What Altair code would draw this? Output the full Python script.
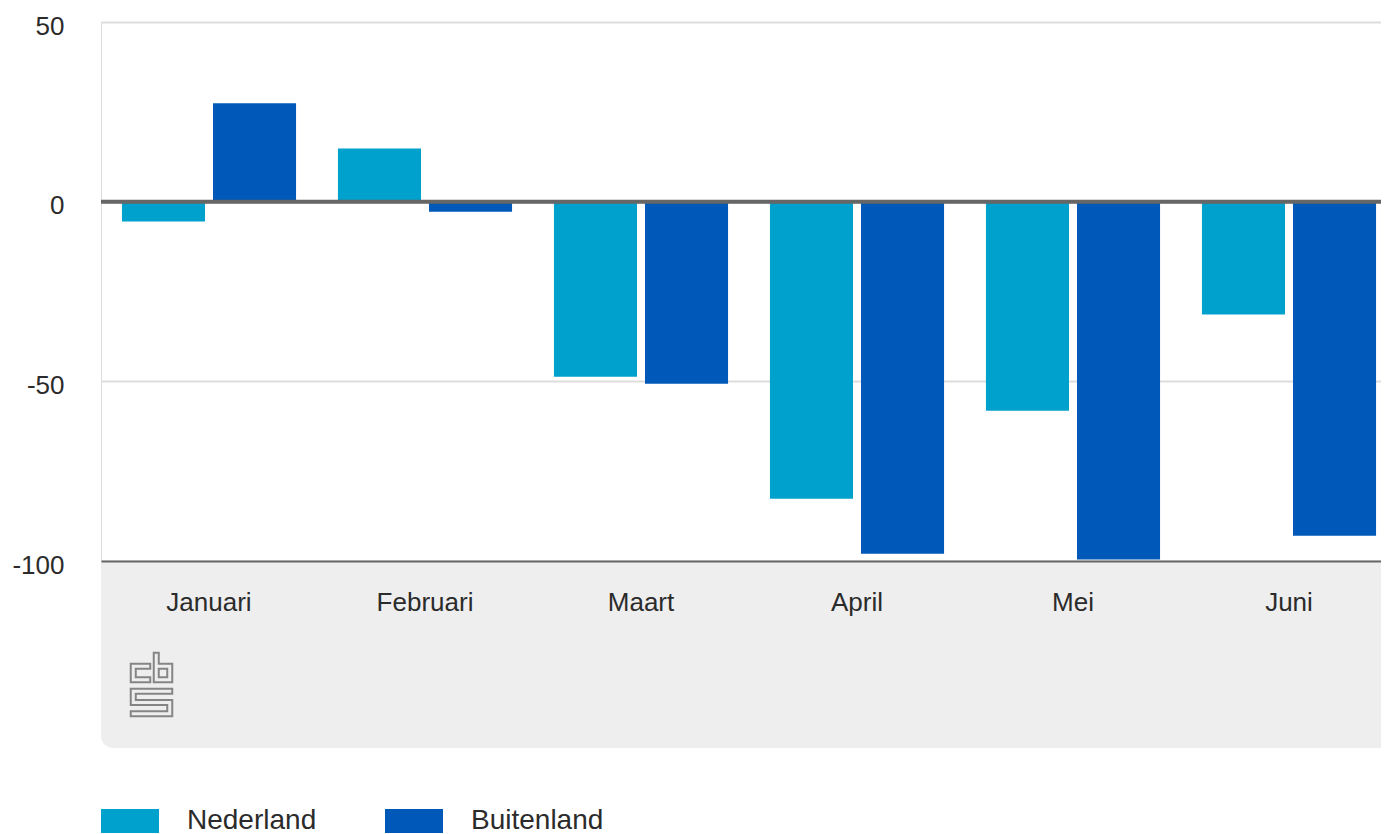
import altair as alt
import pandas as pd

months = ["Januari", "Februari", "Maart", "April", "Mei", "Juni"]
nederland = [-5.5, 14.8, -48.7, -82.7, -58.2, -31.4]
buitenland = [27.4, -2.8, -50.7, -98.0, -99.6, -93.0]
series = ["Nederland", "Buitenland"]
colors = ["#00a1cd", "#0058b8"]
y_ticks = [-100, -50, 0, 50]

rows = []
for m, a, b in zip(months, nederland, buitenland):
    rows.append({"maand": m, "herkomst": "Nederland", "waarde": a})
    rows.append({"maand": m, "herkomst": "Buitenland", "waarde": b})
df = pd.DataFrame(rows)

W, H = 1280, 539
BAND_RANGE = 1296
FONT = "Liberation Sans"
TXT = "#2b2b2b"

# CBS logo outline (decoration), in pixels relative to its centre
LOGO = ("M-3.75,-18.25L-18.25,-18.25L-18.25,-4.75L-3.75,-4.75"
        "M4.75,-29.25L4.75,-4.75L18.25,-4.75L18.25,-18.25L4.75,-18.25"
        "M18.25,6.75L-18.25,6.75L-18.25,18L18.25,18L18.25,29.25L-18.25,29.25")

x_enc = alt.X(
    "maand:N", sort=months,
    scale=alt.Scale(paddingInner=0.194, paddingOuter=0.097, range=[0, BAND_RANGE]),
    axis=alt.Axis(title=None, labelAngle=0, labelFontSize=26, labelColor=TXT,
                  labelPadding=28, ticks=False, domainColor="#666666",
                  domainWidth=2, grid=False, zindex=1, labelFont=FONT),
)
y_enc = alt.Y(
    "waarde:Q",
    scale=alt.Scale(domain=[-100, 50], nice=False, zero=False),
    axis=alt.Axis(title=None, values=y_ticks, labelFontSize=26, labelColor=TXT,
                  labelPadding=37, labelOffset=4, ticks=False, domain=False,
                  gridColor="#dddddd", gridWidth=2, labelExpr="'' + datum.value",
                  labelFont=FONT),
)

bg = alt.Chart(pd.DataFrame({"a": [0]})).mark_rect(
    color="#eeeeee", cornerRadiusBottomLeft=12
).encode(
    x=alt.value(0), x2=alt.value(W + 20), y=alt.value(H), y2=alt.value(H + 187)
)

bars = alt.Chart(df).mark_bar().encode(
    x=x_enc,
    y=y_enc,
    xOffset=alt.XOffset("herkomst:N", sort=series,
                        scale=alt.Scale(paddingInner=0.088, paddingOuter=0)),
    color=alt.Color(
        "herkomst:N", sort=series,
        scale=alt.Scale(domain=series, range=colors),
        legend=alt.Legend(
            title=None, orient="none", legendX=0, legendY=770,
            direction="horizontal",
            symbolType="M-1,-0.41L1,-0.41L1,0.41L-1,0.41Z",
            symbolSize=3364, symbolStrokeWidth=0, symbolOpacity=1,
            labelFontSize=28, labelColor=TXT, labelOffset=28,
            columnPadding=68, labelLimit=300, labelFont=FONT,
        ),
    ),
)

zero = alt.Chart(pd.DataFrame({"waarde": [0]})).mark_rule(
    color="#666666", strokeWidth=4
).encode(y=alt.Y("waarde:Q"))

logo_outer = alt.Chart(pd.DataFrame({"a": [0]})).mark_point(
    shape=LOGO, size=4, filled=False, opacity=1, stroke="#858585",
    strokeWidth=7, strokeCap="square", strokeJoin="miter"
).encode(x=alt.value(50.5), y=alt.value(662.5))

logo_inner = alt.Chart(pd.DataFrame({"a": [0]})).mark_point(
    shape=LOGO, size=4, filled=False, opacity=1, stroke="#eeeeee",
    strokeWidth=3, strokeCap="square", strokeJoin="miter"
).encode(x=alt.value(50.5), y=alt.value(662.5))

chart = alt.layer(bg, bars, zero, logo_outer, logo_inner).properties(
    width=W, height=H,
    autosize=alt.AutoSizeParams(type="none"),
    padding={"left": 93, "top": 14, "right": 0, "bottom": 273},
).configure_view(stroke=None).configure(font=FONT)

chart.save("out.html", embed_options={"renderer": "svg", "actions": False})
